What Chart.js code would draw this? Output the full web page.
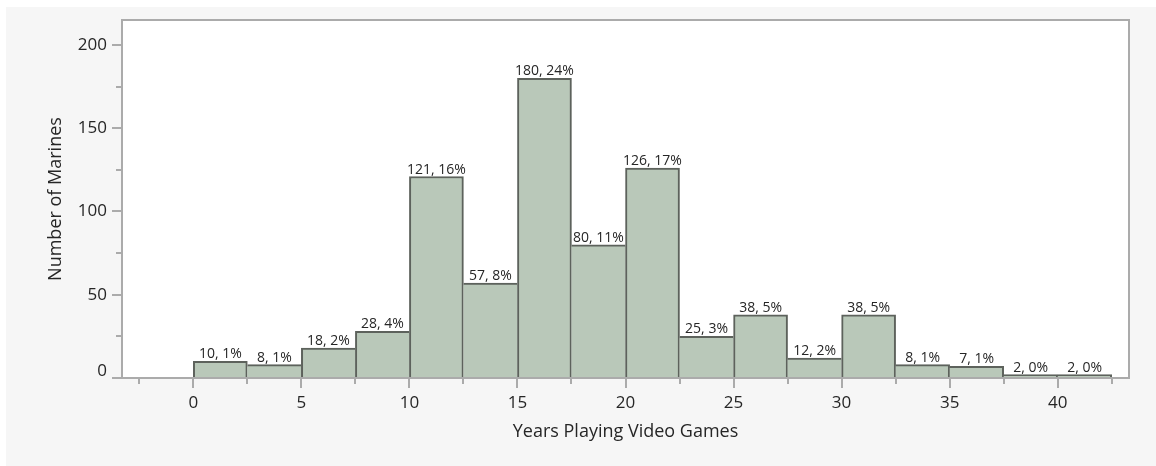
<!DOCTYPE html>
<html>
<head>
<meta charset="utf-8">
<script src="https://cdn.jsdelivr.net/npm/chart.js@4.4.0/dist/chart.umd.min.js"></script>
<style>
  html, body { margin: 0; padding: 0; background: #ffffff; }
  #wrap { position: absolute; left: 0; top: 0; width: 1156px; height: 466px; }
</style>
</head>
<body>
<div id="wrap"><canvas id="c" width="1156" height="466"></canvas></div>
<script>
// ---- data ----
const binCenters = [1.25, 3.75, 6.25, 8.75, 11.25, 13.75, 16.25, 18.75, 21.25, 23.75, 26.25, 28.75, 31.25, 33.75, 36.25, 38.75, 41.25];
const counts     = [10, 8, 18, 28, 121, 57, 180, 80, 126, 25, 38, 12, 38, 8, 7, 2, 2];
const percents   = [1, 1, 2, 4, 16, 8, 24, 11, 17, 3, 5, 2, 5, 1, 1, 0, 0];
const xMajorTicks = [0, 5, 10, 15, 20, 25, 30, 35, 40];
const xMinorTicks = [-2.5, 2.5, 7.5, 12.5, 17.5, 22.5, 27.5, 32.5, 37.5, 42.5];
const yMajorTicks = [0, 50, 100, 150, 200];
const yMinorTicks = [25, 75, 125, 175];
const xTitle = 'Years Playing Video Games';
const yTitle = 'Number of Marines';

const FONT = "'Open Sans', 'Noto Sans', sans-serif";
const AXIS_COLOR = '#ababab';
const TEXT_COLOR = '#262626';

const n = counts.length;
function sideWidth(i, j, strict) {
  if (j < 0 || j >= n) return 2;
  return strict ? (counts[i] > counts[j] ? 2 : 0) : (counts[i] >= counts[j] ? 2 : 0);
}

const bgPlugin = {
  id: 'bg',
  beforeDraw(chart) {
    const {ctx, chartArea: a} = chart;
    ctx.save();
    ctx.fillStyle = '#ffffff';
    ctx.fillRect(0, 0, chart.width, chart.height);
    ctx.fillStyle = '#f6f6f6';
    ctx.fillRect(6, 7, chart.width - 6, chart.height - 7);
    ctx.fillStyle = '#ffffff';
    ctx.fillRect(a.left, a.top, a.right - a.left, a.bottom - a.top);
    ctx.restore();
  }
};

const framePlugin = {
  id: 'frame',
  afterDatasetsDraw(chart) {
    const {ctx, chartArea: a, scales: {x, y}} = chart;
    ctx.save();
    ctx.strokeStyle = AXIS_COLOR;
    ctx.lineWidth = 2;
    ctx.strokeRect(a.left, a.top, a.right - a.left, a.bottom - a.top);
    ctx.lineWidth = 2;
    ctx.beginPath();
    xMajorTicks.forEach(v => { const px = Math.round(x.getPixelForValue(v)); ctx.moveTo(px, a.bottom); ctx.lineTo(px, a.bottom + 10); });
    xMinorTicks.forEach(v => { const px = Math.round(x.getPixelForValue(v)); ctx.moveTo(px, a.bottom); ctx.lineTo(px, a.bottom + 6); });
    yMajorTicks.forEach(v => { const py = Math.round(y.getPixelForValue(v)); ctx.moveTo(a.left, py); ctx.lineTo(a.left - 10, py); });
    yMinorTicks.forEach(v => { const py = Math.round(y.getPixelForValue(v)); ctx.moveTo(a.left, py); ctx.lineTo(a.left - 6, py); });
    ctx.stroke();

    // the "0" label of the y axis sits a little above its tick, clear of the x axis
    ctx.fillStyle = TEXT_COLOR;
    ctx.font = "17px " + FONT;
    ctx.textAlign = 'right';
    ctx.textBaseline = 'middle';
    ctx.fillText(String(yMajorTicks[0]), a.left - 15, y.getPixelForValue(yMajorTicks[0]) - 7);

    // bar value labels
    const meta = chart.getDatasetMeta(0);
    ctx.font = "14px " + FONT;
    ctx.textAlign = 'center';
    ctx.textBaseline = 'bottom';
    meta.data.forEach((bar, i) => {
      ctx.fillText(counts[i] + ', ' + percents[i] + '%', bar.x, bar.y);
    });
    ctx.restore();
  }
};

new Chart(document.getElementById('c'), {
  type: 'bar',
  data: {
    datasets: [{
      data: binCenters.map((c, i) => ({x: c, y: counts[i]})),
      backgroundColor: '#b9c8b9',
      borderColor: '#5d625c',
      borderWidth: (ctx) => {
        const i = ctx.dataIndex;
        return {top: 2, bottom: 0, left: sideWidth(i, i - 1, true), right: sideWidth(i, i + 1, false)};
      },
      borderSkipped: false,
      barPercentage: 1,
      categoryPercentage: 1
    }]
  },
  options: {
    responsive: false,
    animation: false,
    devicePixelRatio: 1,
    layout: { padding: { top: 20, right: 27, left: 0, bottom: 0 } },
    plugins: { legend: { display: false }, tooltip: { enabled: false } },
    scales: {
      x: {
        type: 'linear',
        offset: false,
        min: -3.3,
        max: 43.3,
        afterBuildTicks: (s) => { s.ticks = xMajorTicks.map(v => ({value: v})); },
        afterFit: (s) => { s.height = 88; },
        grid: { display: false, drawTicks: true, tickLength: 10, offset: false },
        border: { display: false },
        ticks: { color: TEXT_COLOR, font: { family: FONT, size: 17 }, padding: 5, maxRotation: 0 },
        title: { display: true, text: xTitle, color: TEXT_COLOR, font: { family: FONT, size: 18 }, padding: { top: 0, bottom: 23 } }
      },
      y: {
        min: 0,
        max: 215,
        afterBuildTicks: (s) => { s.ticks = yMajorTicks.map(v => ({value: v})); },
        afterFit: (s) => { s.width = 122; },
        grid: { display: false, drawTicks: true, tickLength: 10 },
        border: { display: false },
        ticks: { color: TEXT_COLOR, font: { family: FONT, size: 17 }, padding: 5,
                 callback: (v) => (v === yMajorTicks[0] ? '' : String(v)) },
        title: { display: true, text: yTitle, color: TEXT_COLOR, font: { family: FONT, size: 18 }, padding: { top: 45, bottom: 0 } }
      }
    }
  },
  plugins: [bgPlugin, framePlugin]
});
</script>
</body>
</html>
